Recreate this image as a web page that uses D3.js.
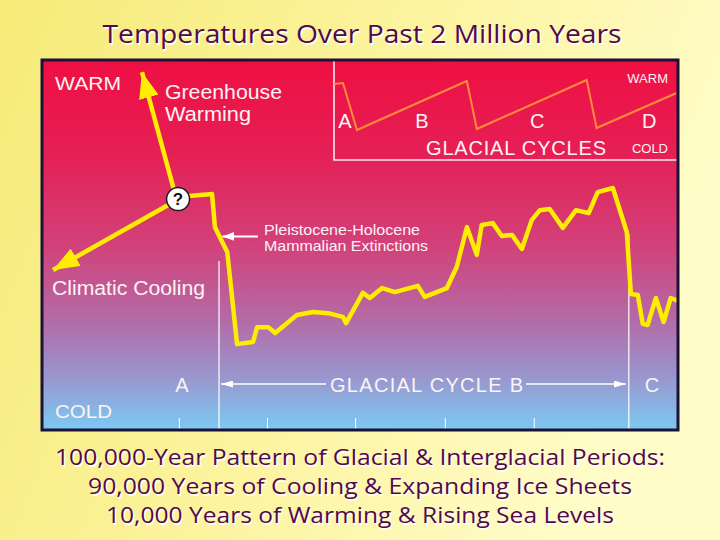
<!DOCTYPE html>
<html><head><meta charset="utf-8">
<script src="https://cdn.jsdelivr.net/npm/d3@7"></script>
<style>html,body{margin:0;padding:0;}svg{display:block;}</style>
</head><body>
<script>
// ---- data ----
const timeKyr = [-8.0,-1.7,-1.0,2.0,4.4,8.3,9.3,12.0,13.7,19.0,22.9,26.6,30.2,31.0,35.1,36.8,39.8,42.9,48.5,50.2,55.6,58.0,60.5,62.9,64.1,66.8,69.0,71.5,73.9,76.3,78.3,80.7,83.9,87.1,90.2,92.4,96.1,99.5,100.5,102.2,103.4,104.6,106.6,108.5,110.2,112.0];
const tempIndex = [63.1,63.7,54.7,48.0,23.0,23.6,27.6,27.6,26.0,30.9,31.7,31.4,30.4,28.7,36.9,35.5,38.2,37.1,38.8,35.8,38.2,43.9,54.7,47.2,55.3,55.8,52.3,52.6,48.8,56.6,59.3,59.6,54.5,59.3,58.5,64.2,65.3,53.4,36.6,36.3,28.5,28.2,35.5,29.0,35.5,34.7];
const cycleBounds = [0, 100];          // glacial cycle A|B and B|C boundaries (kyr)
const boundTop = [45.5, 53.0];         // where the boundary lines start (temp index)
const tickKyr = [-9.8, 11.7, 33.2, 55.1, 76.8];
const questionPt = {t: -10.0, v: 62.3};
const warmingArrow = [{t: -11.0, v: 64.8}, {t: -18.8, v: 96.7}];
const coolingArrow = [{t: -12.4, v: 60.7}, {t: -40.5, v: 43.1}];
const extinctionArrow = [{t: 9.5, v: 52.2}, {t: 0.8, v: 52.2}];
// inset sawtooth (glacial cycles)
const insetTime = [0, 8.2, 20.9, 120.9, 130.0, 230.0, 239.0, 311.8];
const insetTemp = [85, 86.7, 8.3, 90, 10, 91.7, 11.7, 70];
const insetCycleLabels = ["A","B","C","D"];
const insetLabelTime = [10, 80, 185, 287];
const mainCycleLabels = ["A", "GLACIAL CYCLE  B", "C"];
const titleText = "Temperatures Over Past 2 Million Years";
const captionLines = ["100,000-Year Pattern of Glacial & Interglacial Periods:",
  "90,000 Years of Cooling & Expanding Ice Sheets",
  "10,000 Years of Warming & Rising Sea Levels"];

// ---- drawing ----
const W = 720, H = 540;
const svg = d3.select("body").append("svg").attr("width", W).attr("height", H);
const defs = svg.append("defs");

const bg = defs.append("linearGradient").attr("id","bg").attr("x1","0").attr("y1","0").attr("x2","1").attr("y2","0.3");
bg.append("stop").attr("offset","0").attr("stop-color","#f6ea78");
bg.append("stop").attr("offset","0.55").attr("stop-color","#fcf4a0");
bg.append("stop").attr("offset","1").attr("stop-color","#fffcc8");
svg.append("rect").attr("width",W).attr("height",H).attr("fill","url(#bg)");

const pg = defs.append("linearGradient").attr("id","pg").attr("x1","0").attr("y1","0").attr("x2","0").attr("y2","1");
[[0,"#ef0f42"],[0.25,"#e51f55"],[0.5,"#d2417a"],[0.7,"#b46aa6"],[0.85,"#9a94cc"],[1,"#7ccaf2"]]
  .forEach(([o,c]) => pg.append("stop").attr("offset",o).attr("stop-color",c));

const panel = {x0: 42, y0: 60, x1: 678, y1: 430};
svg.append("rect").attr("x",panel.x0).attr("y",panel.y0).attr("width",panel.x1-panel.x0).attr("height",panel.y1-panel.y0)
  .attr("fill","url(#pg)");

const x = d3.scaleLinear().domain([-43.2, 112]).range([panel.x0, panel.x1]);
const y = d3.scaleLinear().domain([0, 100]).range([429, 60]);

const txtCol = "#fff2f4";
const sans = "'Liberation Sans', Arial, Helvetica, sans-serif";

// inset
const ix = d3.scaleLinear().domain([0, 314]).range([334, 679]);
const iy = d3.scaleLinear().domain([0, 100]).range([135, 75]);
svg.append("path").attr("d", `M${ix(0)},${panel.y0} V160 H${panel.x1}`).attr("fill","none").attr("stroke","#ffe8ee").attr("stroke-width",1.6);
svg.append("path").datum(insetTime.map((t,i)=>[t, insetTemp[i]]))
  .attr("d", d3.line().x(d=>ix(d[0])).y(d=>iy(d[1])))
  .attr("fill","none").attr("stroke","#ff8a3c").attr("stroke-width",2);
svg.selectAll(".ilab").data(insetCycleLabels).join("text")
  .attr("x",(d,i)=>ix(insetLabelTime[i])).attr("y",128).attr("text-anchor","middle")
  .attr("font-family",sans).attr("font-size",20).attr("fill",txtCol).text(d=>d);
svg.append("text").attr("x",668).attr("y",83).attr("text-anchor","end").attr("font-family",sans).attr("font-size",13).attr("fill",txtCol).text("WARM");
svg.append("text").attr("x",668).attr("y",153).attr("text-anchor","end").attr("font-family",sans).attr("font-size",13).attr("fill",txtCol).text("COLD");
svg.append("text").attr("x",426).attr("y",155).attr("font-family",sans).attr("font-size",20).attr("textLength",180).attr("fill",txtCol).text("GLACIAL CYCLES");

// boundary lines & ticks
svg.selectAll(".bound").data(cycleBounds).join("line")
  .attr("x1",d=>x(d)).attr("x2",d=>x(d)).attr("y1",(d,i)=>y(boundTop[i])).attr("y2",panel.y1)
  .attr("stroke","#ffffff").attr("stroke-width",1.2);
const axis = d3.axisBottom(x).tickValues(tickKyr).tickSize(12).tickFormat("");
const ag = svg.append("g").attr("transform",`translate(0,${panel.y1-12})`).call(axis);
ag.select(".domain").remove();
ag.selectAll("line").attr("stroke","#ffffff").attr("stroke-width",1);

// markers
function marker(id, len, wid, col){
  defs.append("marker").attr("id",id).attr("markerUnits","userSpaceOnUse")
    .attr("viewBox",`0 0 ${len} ${wid}`).attr("refX",len).attr("refY",wid/2)
    .attr("markerWidth",len).attr("markerHeight",wid).attr("orient","auto")
    .append("path").attr("d",`M0,0 L${len},${wid/2} L0,${wid} Z`).attr("fill",col);
}
marker("ya", 26, 20, "#ffee00");
marker("wa", 12, 9, "#ffffff");
marker("wb", 12, 7, "#ffffff");

// main temperature line
svg.append("path").datum(timeKyr.map((t,i)=>[t, tempIndex[i]]))
  .attr("d", d3.line().x(d=>x(d[0])).y(d=>y(d[1])))
  .attr("fill","none").attr("stroke","#ffec00").attr("stroke-width",4.5).attr("stroke-linejoin","round");

// yellow arrows
[warmingArrow, coolingArrow].forEach(a => {
  svg.append("path").datum(a).attr("d", d3.line().x(d=>x(d.t)).y(d=>y(d.v)))
    .attr("stroke","#ffec00").attr("stroke-width",4.5).attr("fill","none").attr("marker-end","url(#ya)");
});
// question circle
svg.append("circle").attr("cx",x(questionPt.t)).attr("cy",y(questionPt.v)).attr("r",11.5)
  .attr("fill","#ffffff").attr("stroke","#1a1a1a").attr("stroke-width",1.5);
svg.append("text").attr("x",x(questionPt.t)).attr("y",y(questionPt.v)+6).attr("text-anchor","middle")
  .attr("font-family",sans).attr("font-weight","bold").attr("font-size",17).attr("fill","#111").text("?");

// extinction arrow
svg.append("path").datum(extinctionArrow).attr("d", d3.line().x(d=>x(d.t)).y(d=>y(d.v)))
  .attr("stroke","#ffffff").attr("stroke-width",2).attr("marker-end","url(#wa)");

// panel labels
function label(t, xx, yy, size, len){
  const e = svg.append("text").attr("x",xx).attr("y",yy).attr("font-family",sans).attr("font-size",size).attr("fill",txtCol).text(t);
  if (len) e.attr("textLength",len).attr("lengthAdjust","spacingAndGlyphs");
  return e;
}
label("WARM", 55, 90, 19, 66);
label("Greenhouse", 165, 99, 20, 117);
label("Warming", 165, 121, 20, 86);
label("Climatic Cooling", 52, 295, 20, 153);
label("Pleistocene-Holocene", 264, 235, 15, 156);
label("Mammalian Extinctions", 264, 251, 15, 164);
label("COLD", 55, 418, 19, 57);

// glacial cycle labels row
const rowY = 392;
svg.append("text").attr("x",182).attr("y",rowY).attr("text-anchor","middle").attr("font-family",sans).attr("font-size",20).attr("fill",txtCol).text(mainCycleLabels[0]);
svg.append("text").attr("x",330).attr("y",rowY).attr("font-family",sans).attr("font-size",20).attr("textLength",193).attr("fill",txtCol).text(mainCycleLabels[1]);
svg.append("text").attr("x",652).attr("y",rowY).attr("text-anchor","middle").attr("font-family",sans).attr("font-size",20).attr("fill",txtCol).text(mainCycleLabels[2]);
svg.append("line").attr("x1",326).attr("x2",x(cycleBounds[0])+2).attr("y1",384).attr("y2",384).attr("stroke","#fff").attr("stroke-width",1.6).attr("marker-end","url(#wb)");
svg.append("line").attr("x1",526).attr("x2",x(cycleBounds[1])-3).attr("y1",384).attr("y2",384).attr("stroke","#fff").attr("stroke-width",1.6).attr("marker-end","url(#wb)");

// panel border
svg.append("rect").attr("x",panel.x0).attr("y",panel.y0).attr("width",panel.x1-panel.x0).attr("height",panel.y1-panel.y0)
  .attr("fill","none").attr("stroke","#1c1238").attr("stroke-width",3);

// title and caption
const cfont = "'Comic Sans MS', 'Open Sans', 'DejaVu Sans', sans-serif";
function shadowText(t, cx, by, size, len){
  [[1.5,"#fffff4"],[0,"#520a4c"]].forEach(([off,col]) => {
    svg.append("text").attr("x",cx+off).attr("y",by+off).attr("text-anchor","middle")
      .attr("font-family",cfont).attr("font-size",size).attr("fill",col)
      .attr("textLength",len).attr("lengthAdjust","spacingAndGlyphs").text(t);
  });
}
shadowText(titleText, 362, 43, 25, 519);
shadowText(captionLines[0], 360, 465, 22, 610);
shadowText(captionLines[1], 360, 494, 22, 544);
shadowText(captionLines[2], 360, 523, 22, 508);
</script>
</body></html>
